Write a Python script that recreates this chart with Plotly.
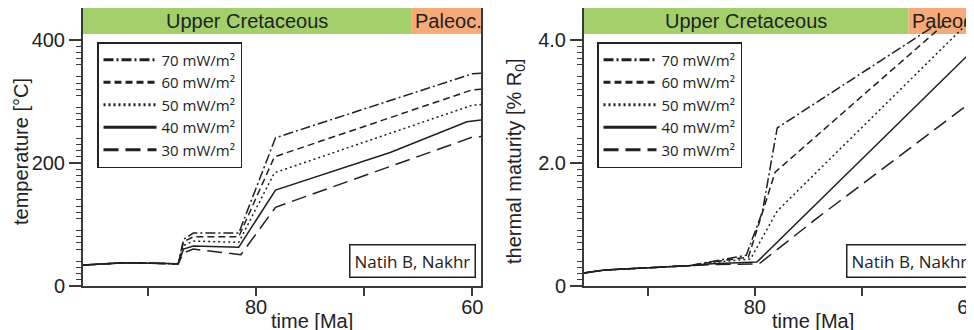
import plotly.graph_objects as go

# ---------------- data ----------------
series_labels = ["70 mW/m²", "60 mW/m²", "50 mW/m²", "40 mW/m²", "30 mW/m²"]
series_dash = ["10px,3px,2px,3px", "7px,4px", "2px,3px", "solid", "15px,7px"]

# Temperature history (time [Ma], temperature [°C])
time_temp_70 = [96, 92, 87.2, 86.7, 85.8, 81.6, 78.2, 60.0, 59.2]
temp_70 = [34, 38, 36, 76, 86, 86, 241, 345, 346]
time_temp_60 = [96, 92, 87.2, 86.7, 85.8, 81.6, 78.3, 60.0, 59.2]
temp_60 = [34, 38, 36, 72, 80, 80, 210, 319, 320]
time_temp_50 = [96, 92, 87.2, 86.7, 85.8, 81.6, 78.3, 60.0, 59.2]
temp_50 = [34, 38, 36, 66, 73, 71, 184, 294, 295]
time_temp_40 = [96, 92, 87.2, 86.7, 85.8, 81.6, 78.2, 67.6, 60.5, 59.2]
temp_40 = [34, 38, 36, 60, 65, 63, 156, 217, 267, 270]
time_temp_30 = [96, 92, 87.2, 86.7, 85.8, 81.4, 78.2, 60.0, 59.2]
temp_30 = [34, 38, 36, 54, 60, 51, 128, 242, 243]

# Thermal maturity (time [Ma], vitrinite reflectance [% Ro])
time_mat_70 = [96, 94.1, 86.2, 84.0, 80.8, 79.3, 77.9, 63.0]
mat_70 = [0.21, 0.26, 0.33, 0.40, 0.50, 1.20, 2.57, 4.25]
time_mat_60 = [96, 94.1, 86.2, 84.0, 80.6, 78.1, 62.3]
mat_60 = [0.21, 0.26, 0.33, 0.39, 0.47, 1.85, 4.25]
time_mat_50 = [96, 94.1, 86.2, 84.0, 80.4, 77.9, 60.2]
mat_50 = [0.21, 0.26, 0.33, 0.38, 0.44, 1.22, 4.25]
time_mat_40 = [96, 94.1, 86.2, 84.0, 79.8, 60.0, 58.8]
mat_40 = [0.21, 0.26, 0.33, 0.36, 0.39, 3.76, 3.84]
time_mat_30 = [96, 94.1, 86.2, 84.0, 79.6, 74.2, 59.5, 58.8]
mat_30 = [0.21, 0.26, 0.33, 0.35, 0.36, 1.10, 3.02, 3.11]

temp_series = [(time_temp_70, temp_70), (time_temp_60, temp_60), (time_temp_50, temp_50),
               (time_temp_40, temp_40), (time_temp_30, temp_30)]
mat_series = [(time_mat_70, mat_70), (time_mat_60, mat_60), (time_mat_50, mat_50),
              (time_mat_40, mat_40), (time_mat_30, mat_30)]

# stratigraphy band
epoch_names = ["Upper Cretaceous", "Paleoc."]
cretaceous_start = 96
paleocene_start = 65.6
left_x_end = 59.2
right_x_end = 59.0

temp_ticks = [0, 200, 400]
temp_tick_text = ["0", "200", "400"]
mat_ticks = [0, 2.0, 4.0]
mat_tick_text = ["0", "2.0", "4.0"]
time_ticks = [90, 80, 70, 60]
time_tick_text = [" ", "80", " ", "60"]

# ---------------- figure ----------------
W, H = 974, 330
OFF = 8            # page body margin of the browser
TOP, BOT = 8, 286  # plot area in window pixels
PH = BOT - TOP
LINE = "#231f20"
AX = "#3a3a3a"
GREEN = "#a3d06b"
ORANGE = "#f6aa78"
FONT = "Liberation Sans, Arial, sans-serif"

temp_max = 452.0
temp_band = 409.8
mat_max = 4.52
mat_band = 4.098

fig = go.Figure()

for i, (tx, ty) in enumerate(temp_series):
    fig.add_trace(go.Scatter(x=tx, y=ty, mode="lines", xaxis="x", yaxis="y",
                             line=dict(color=LINE, width=1.5, dash=series_dash[i]),
                             showlegend=False, hoverinfo="skip"))
for i, (tx, ty) in enumerate(mat_series):
    fig.add_trace(go.Scatter(x=tx, y=ty, mode="lines", xaxis="x2", yaxis="y2",
                             line=dict(color=LINE, width=1.5, dash=series_dash[i]),
                             showlegend=False, hoverinfo="skip"))
# legend entries (thicker sample lines as in the original)
for leg, xa, ya in [("legend", "x", "y"), ("legend2", "x2", "y2")]:
    for i, lab in enumerate(series_labels):
        fig.add_trace(go.Scatter(x=[None], y=[None], mode="lines", xaxis=xa, yaxis=ya,
                                 name=lab, legend=leg,
                                 line=dict(color=LINE, width=3, dash=series_dash[i])))

# band shapes
for xr, yr, top, band, xend in [("x", "y", temp_max, temp_band, left_x_end),
                                ("x2", "y2", mat_max, mat_band, right_x_end)]:
    fig.add_shape(type="rect", xref=xr, yref=yr, x0=cretaceous_start, x1=paleocene_start,
                  y0=band, y1=top, fillcolor=GREEN, line_width=0, layer="below")
    fig.add_shape(type="rect", xref=xr, yref=yr, x0=paleocene_start, x1=xend,
                  y0=band, y1=top, fillcolor=ORANGE, line_width=0, layer="below")
    fig.add_annotation(xref=xr, yref=yr, x=(cretaceous_start + paleocene_start) / 2,
                       y=(band + top) / 2, text=epoch_names[0], showarrow=False,
                       xanchor="center", yanchor="middle",
                       font=dict(size=20, color="#222", family=FONT))
    fig.add_annotation(xref=xr, yref=yr, x=paleocene_start, xanchor="left", xshift=1,
                       y=(band + top) / 2, yanchor="middle", text=epoch_names[1], showarrow=False,
                       font=dict(size=20, color="#222", family=FONT))


def px_x(p):
    return (p - OFF) / W


def px_y(p):
    return (BOT - p) / PH


# axis titles
for cx in [312, 813]:
    fig.add_annotation(xref="paper", yref="paper", x=px_x(cx), y=px_y(321), text="time [Ma]",
                       xanchor="center", yanchor="middle",
                       showarrow=False, font=dict(size=20, color="#222", family=FONT))
fig.add_annotation(xref="paper", yref="paper", x=px_x(21), y=px_y(152), text="temperature [°C]",
                   xanchor="center", yanchor="middle",
                   textangle=-90, showarrow=False, font=dict(size=20, color="#222", family=FONT))
fig.add_annotation(xref="paper", yref="paper", x=px_x(515), y=px_y(161),
                   text="thermal maturity [% R<sub>0</sub>]", xanchor="center", yanchor="middle",
                   textangle=-90, showarrow=False, font=dict(size=20, color="#222", family=FONT))

# well label boxes
for xr_px in [476, 973]:
    fig.add_annotation(xref="paper", yref="paper", x=px_x(xr_px), y=px_y(278),
                       xanchor="right", yanchor="bottom", text="Natih B, Nakhr",
                       showarrow=False, bgcolor="white", bordercolor="#222", borderwidth=1.5,
                       borderpad=4, font=dict(size=17, color="#222", family="Open Sans"))


def minor_vals(step, top, skip):
    vals = []
    k = 1
    while k * step < top - 1e-9:
        v = round(k * step, 6)
        if all(abs(v - s) > 1e-6 for s in skip):
            vals.append(v)
        k += 1
    return vals


temp_mid = [50, 100, 150, 250, 300, 350]
mat_mid = [0.5, 1.0, 1.5, 2.5, 3.0, 3.5]

xcommon = dict(showgrid=False, zeroline=False, ticks="outside", ticklen=8, tickwidth=1.5,
               tickcolor=AX, showline=True, linecolor=AX, linewidth=2,
               tickmode="array", tickvals=time_ticks, ticktext=time_tick_text,
               ticklabelstandoff=-6,
               tickfont=dict(size=20, color="#222", family=FONT))
ycommon = dict(showgrid=False, zeroline=False, ticks="outside", ticklen=12, tickwidth=1.5,
               tickcolor=AX, showline=True, linecolor=AX, linewidth=2, tickmode="array",
               tickfont=dict(size=20, color="#222", family=FONT))

legend_common = dict(xanchor="left", yanchor="top", bgcolor="white",
                     bordercolor="#222", borderwidth=1.5, itemwidth=53, tracegroupgap=0,
                     font=dict(size=15, color="#222", family="Open Sans"))

fig.update_layout(
    width=W, height=H,
    margin=dict(l=0, r=0, t=TOP - OFF, b=H - (BOT - OFF), autoexpand=False),
    paper_bgcolor="white", plot_bgcolor="white",
    xaxis=dict(domain=[px_x(83), px_x(481)], range=[cretaceous_start, left_x_end], anchor="y",
               mirror=True, **xcommon),
    yaxis=dict(domain=[0, 1], range=[0, temp_max], anchor="x", mirror=True,
               tickvals=temp_ticks, ticktext=temp_tick_text,
               minor=dict(tickmode="array", tickvals=minor_vals(10, 400, temp_ticks + temp_mid),
                          ticklen=5, tickwidth=1.2, tickcolor=AX, ticks="outside"),
               **ycommon),
    yaxis3=dict(overlaying="y", anchor="x", side="left", range=[0, temp_max],
                showgrid=False, zeroline=False, showline=False, ticks="outside", ticklen=8,
                tickwidth=1.3, tickcolor=AX, tickmode="array", tickvals=temp_mid,
                showticklabels=False),
    xaxis2=dict(domain=[px_x(584), px_x(979)], range=[cretaceous_start, right_x_end], anchor="y2",
                mirror=True, **xcommon),
    yaxis2=dict(domain=[0, 1], range=[0, mat_max], anchor="x2", mirror=True,
                tickvals=mat_ticks, ticktext=mat_tick_text,
                minor=dict(tickmode="array", tickvals=minor_vals(0.1, 4.0, mat_ticks + mat_mid),
                           ticklen=5, tickwidth=1.2, tickcolor=AX, ticks="outside"),
                **ycommon),
    yaxis4=dict(overlaying="y2", anchor="x2", side="left", range=[0, mat_max],
                showgrid=False, zeroline=False, showline=False, ticks="outside", ticklen=8,
                tickwidth=1.3, tickcolor=AX, tickmode="array", tickvals=mat_mid,
                showticklabels=False),
    legend=dict(x=px_x(97), y=px_y(42), **legend_common),
    legend2=dict(x=px_x(597), y=px_y(42), **legend_common),
)

fig.write_html("out.html")
